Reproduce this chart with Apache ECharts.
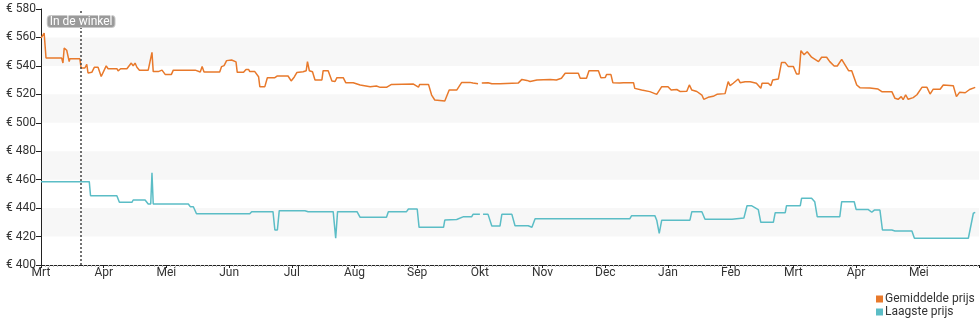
<!DOCTYPE html>
<html>
<head>
<meta charset="utf-8">
<script src="https://cdn.jsdelivr.net/npm/echarts@6/dist/echarts.min.js"></script>
<style>
  html, body { margin: 0; padding: 0; background: #fff; }
  #chart { width: 980px; height: 325px; }
</style>
</head>
<body>
<div id="chart"></div>
<script>
// Month labels along the time axis (one unit = one month, starting in March)
const months = ['Mrt', 'Apr', 'Mei', 'Jun', 'Jul', 'Aug', 'Sep', 'Okt', 'Nov', 'Dec', 'Jan', 'Feb', 'Mrt', 'Apr', 'Mei'];

// Moment the product appeared in the shop (in months from the start)
const inWinkelAt = 0.64;

// Average price: [month position, price in euro]
const gemiddeldePrijs = [
  [0, 559.5], [0.03, 559.5], [0.05, 563], [0.08, 545.5], [0.33, 545.5], [0.35, 542], [0.37, 552.5], [0.41, 551],
  [0.45, 543], [0.46, 545], [0.62, 545], [0.64, 538.5], [0.70, 538.5], [0.73, 541], [0.75, 535], [0.81, 535.5],
  [0.85, 539], [0.91, 539], [0.96, 532.5], [1.04, 540], [1.07, 538], [1.21, 538], [1.23, 536.5], [1.27, 538],
  [1.37, 538], [1.44, 542], [1.47, 540], [1.50, 542], [1.53, 539], [1.57, 537], [1.71, 537], [1.74, 538],
  [1.77, 549.5], [1.79, 536], [1.87, 536], [1.93, 537], [1.98, 534], [2.08, 534], [2.11, 537], [2.32, 537],
  [2.46, 537], [2.54, 535.7], [2.57, 539.5], [2.60, 535.7], [2.85, 535.7], [2.88, 539.5], [2.92, 540.2], [2.96, 543.7],
  [3.04, 544.1], [3.07, 542.8], [3.11, 542.8], [3.13, 535.5], [3.23, 535.5], [3.27, 537.5], [3.31, 537.5], [3.33, 536],
  [3.41, 536], [3.47, 532.4], [3.49, 525.4], [3.57, 525.4], [3.61, 531.7], [3.73, 531.7], [3.77, 532.9], [3.94, 532.9],
  [3.99, 529.4], [4.04, 532.2], [4.08, 535.3], [4.18, 535.9], [4.23, 536.6], [4.25, 543], [4.28, 536.6], [4.33, 535.9],
  [4.37, 530.1], [4.48, 530.1], [4.50, 536.6], [4.58, 536.6], [4.64, 529.4], [4.69, 529], [4.72, 531.7], [4.82, 531.7],
  [4.86, 528.2], [4.98, 528.2], [5.09, 526.6], [5.25, 525.4], [5.35, 525.8], [5.41, 524.9], [5.51, 524.9], [5.59, 527],
  [5.94, 527.2], [6.02, 525], [6.04, 527], [6.18, 527], [6.23, 519.5], [6.28, 516], [6.44, 515.3], [6.51, 523],
  [6.63, 523], [6.71, 528.4], [6.84, 528.4], [6.89, 527.9], [6.97, 527.4], [7.00, null],
  [7.03, 527.9], [7.13, 528.2], [7.19, 527.4], [7.32, 527.4], [7.35, 528.2], [7.61, 527.9], [7.64, 527.4], [7.67, 530.5],
  [7.75, 529.8], [7.80, 529], [7.91, 530.1], [8.12, 530.5], [8.22, 530.1], [8.30, 531.3], [8.36, 534.8], [8.57, 534.8],
  [8.60, 531.3], [8.70, 531.3], [8.74, 536.6], [8.89, 536.6], [8.93, 531.7], [9.00, 531.9], [9.02, 533.9], [9.09, 533.9],
  [9.12, 528.2], [9.23, 527.9], [9.29, 528.2], [9.45, 528.2], [9.47, 524.2], [9.58, 523], [9.71, 521.9], [9.82, 520],
  [9.90, 525.4], [10.00, 525.4], [10.05, 523], [10.14, 523.4], [10.19, 522], [10.30, 522.2], [10.34, 526.6], [10.38, 523],
  [10.46, 522], [10.54, 519.5], [10.57, 516.5], [10.64, 517.9], [10.72, 518.6], [10.78, 520], [10.91, 520.5], [10.96, 528.9],
  [10.99, 526.1], [11.04, 527.8], [11.12, 530.8], [11.15, 528.2], [11.23, 528.9], [11.31, 528.9], [11.41, 527.8], [11.48, 524.2],
  [11.50, 527.8], [11.60, 527.8], [11.64, 526], [11.67, 530.1], [11.76, 530.8], [11.81, 542.3], [11.87, 542.3], [11.92, 539.5],
  [12.00, 539.5], [12.05, 534.3], [12.09, 534.3], [12.12, 550.7], [12.17, 547.8], [12.22, 550], [12.29, 546.1], [12.40, 543],
  [12.45, 546.1], [12.53, 546.1], [12.58, 543], [12.65, 539.9], [12.70, 539.9], [12.77, 544.6], [12.88, 536.6], [12.93, 536.6],
  [13.01, 526.6], [13.06, 524.7], [13.22, 524.5], [13.35, 523.7], [13.41, 521.9], [13.57, 521.9], [13.62, 517.2], [13.67, 516.5],
  [13.72, 518.4], [13.75, 516.2], [13.79, 519.7], [13.83, 516.5], [13.91, 517.7], [13.97, 519.7], [14.05, 524.9], [14.13, 524.9],
  [14.18, 520.2], [14.23, 523.6], [14.34, 523.6], [14.39, 526.6], [14.55, 526], [14.60, 518.4], [14.65, 521.4], [14.74, 521.1],
  [14.81, 523.4], [14.90, 524.9]
];

// Lowest price: [month position, price in euro]
const laagstePrijs = [
  [0, 458.6], [0.77, 458.6], [0.79, 448.7], [1.21, 448.7], [1.25, 444.1], [1.45, 444.1], [1.47, 445.7], [1.66, 445.7],
  [1.71, 442.9], [1.75, 442.9], [1.77, 464.9], [1.79, 442.9], [2.35, 442.9], [2.38, 441], [2.43, 441], [2.48, 436],
  [3.33, 436], [3.36, 437.5], [3.70, 437.5], [3.73, 424.6], [3.77, 424.6], [3.80, 438.2], [4.21, 438.2], [4.26, 437.5],
  [4.66, 437.5], [4.70, 418.8], [4.73, 437.5], [5.04, 437.5], [5.09, 433.5], [5.51, 433.5], [5.54, 437.5], [5.83, 437.5],
  [5.86, 439.4], [6.00, 439.4], [6.03, 426.5], [6.42, 426.5], [6.44, 431.6], [6.63, 432], [6.74, 434], [6.87, 434],
  [6.89, 435.6], [7.00, 435.6], [7.02, null],
  [7.05, 435.6], [7.13, 435.6], [7.19, 427.4], [7.32, 427.4], [7.35, 435.6], [7.51, 435.6], [7.56, 427.6], [7.77, 427.6],
  [7.83, 426.5], [7.88, 432.5], [9.39, 432.5], [9.42, 434.7], [9.79, 434.7], [9.82, 431.5], [9.86, 422.2], [9.90, 431.5],
  [10.35, 431.5], [10.38, 437.5], [10.54, 437.5], [10.59, 432.2], [11.02, 432.2], [11.04, 433], [11.21, 433], [11.26, 441.7],
  [11.33, 441.7], [11.44, 439], [11.48, 430], [11.68, 430], [11.71, 436.8], [11.87, 436.8], [11.89, 441.7], [12.11, 441.7],
  [12.13, 446.9], [12.29, 446.9], [12.34, 444.5], [12.38, 434], [12.74, 434], [12.77, 444.5], [12.97, 444.5], [13.00, 439.1],
  [13.19, 439.1], [13.25, 437.1], [13.29, 438.6], [13.38, 438.6], [13.42, 424.6], [13.57, 424.6], [13.62, 423.9], [13.89, 423.9],
  [13.93, 418.8], [14.79, 418.8], [14.87, 436.4], [14.90, 437]
];

const chart = echarts.init(document.getElementById('chart'), null, { renderer: 'canvas' });
const font = 'Roboto, "Noto Sans", sans-serif';

chart.setOption({
  animation: false,
  textStyle: { fontFamily: font },
  grid: { left: 41, right: 1, top: 9, bottom: 60, containLabel: false },
  legend: {
    orient: 'vertical',
    left: 871,
    top: 288,
    itemWidth: 7,
    itemHeight: 7,
    itemGap: 1,
    icon: 'rect',
    textStyle: { fontSize: 12, color: '#333', fontFamily: font, padding: [0, 0, 0, -3] },
    data: ['Gemiddelde prijs', 'Laagste prijs']
  },
  xAxis: {
    type: 'value',
    min: 0,
    max: 14.96,
    interval: 1,
    axisLine: { show: true, lineStyle: { color: '#222', width: 1 } },
    axisTick: { show: true, length: 3, lineStyle: { color: '#222' } },
    minorTick: { show: true, splitNumber: 15, length: 2, lineStyle: { color: '#bbb' } },
    splitLine: { show: false },
    axisLabel: {
      color: '#333',
      fontSize: 12,
      fontFamily: font,
      margin: 2,
      showMaxLabel: false,
      formatter: function (v) { return months[Math.round(v)] || ''; }
    }
  },
  yAxis: {
    type: 'value',
    min: 400,
    max: 580,
    interval: 20,
    axisLine: { show: true, lineStyle: { color: '#222', width: 1 } },
    axisTick: { show: true, length: 5, lineStyle: { color: '#222' } },
    splitLine: { show: false },
    splitArea: { show: true, areaStyle: { color: ['rgba(255,255,255,0)', '#f7f7f7'] } },
    axisLabel: {
      color: '#333',
      fontSize: 12,
      fontFamily: font,
      margin: 5,
      formatter: function (v) { return '€ ' + v; }
    }
  },
  series: [
    {
      name: 'Gemiddelde prijs',
      type: 'line',
      data: gemiddeldePrijs,
      showSymbol: false,
      connectNulls: false,
      color: '#e8792b',
      lineStyle: { width: 1.5, color: '#e8792b' },
      markLine: {
        silent: true,
        symbol: 'none',
        label: { show: false },
        lineStyle: { color: '#444', type: [2, 2], width: 1.5 },
        data: [{ xAxis: inWinkelAt }]
      },
      markPoint: {
        silent: true,
        symbol: 'rect',
        symbolSize: 0,
        label: {
          show: true,
          position: 'inside',
          formatter: 'In de winkel',
          color: '#fff',
          fontSize: 12,
          fontFamily: font,
          backgroundColor: '#9a9a9a',
          borderColor: '#c8c8c8',
          borderWidth: 1,
          borderRadius: 3,
          padding: [0, 2, 0, 2],
          lineHeight: 11
        },
        data: [{ coord: [inWinkelAt, 571.2] }]
      }
    },
    {
      name: 'Laagste prijs',
      type: 'line',
      data: laagstePrijs,
      showSymbol: false,
      connectNulls: false,
      color: '#5bbdc6',
      lineStyle: { width: 1.5, color: '#5bbdc6' }
    }
  ]
});
</script>
</body>
</html>
